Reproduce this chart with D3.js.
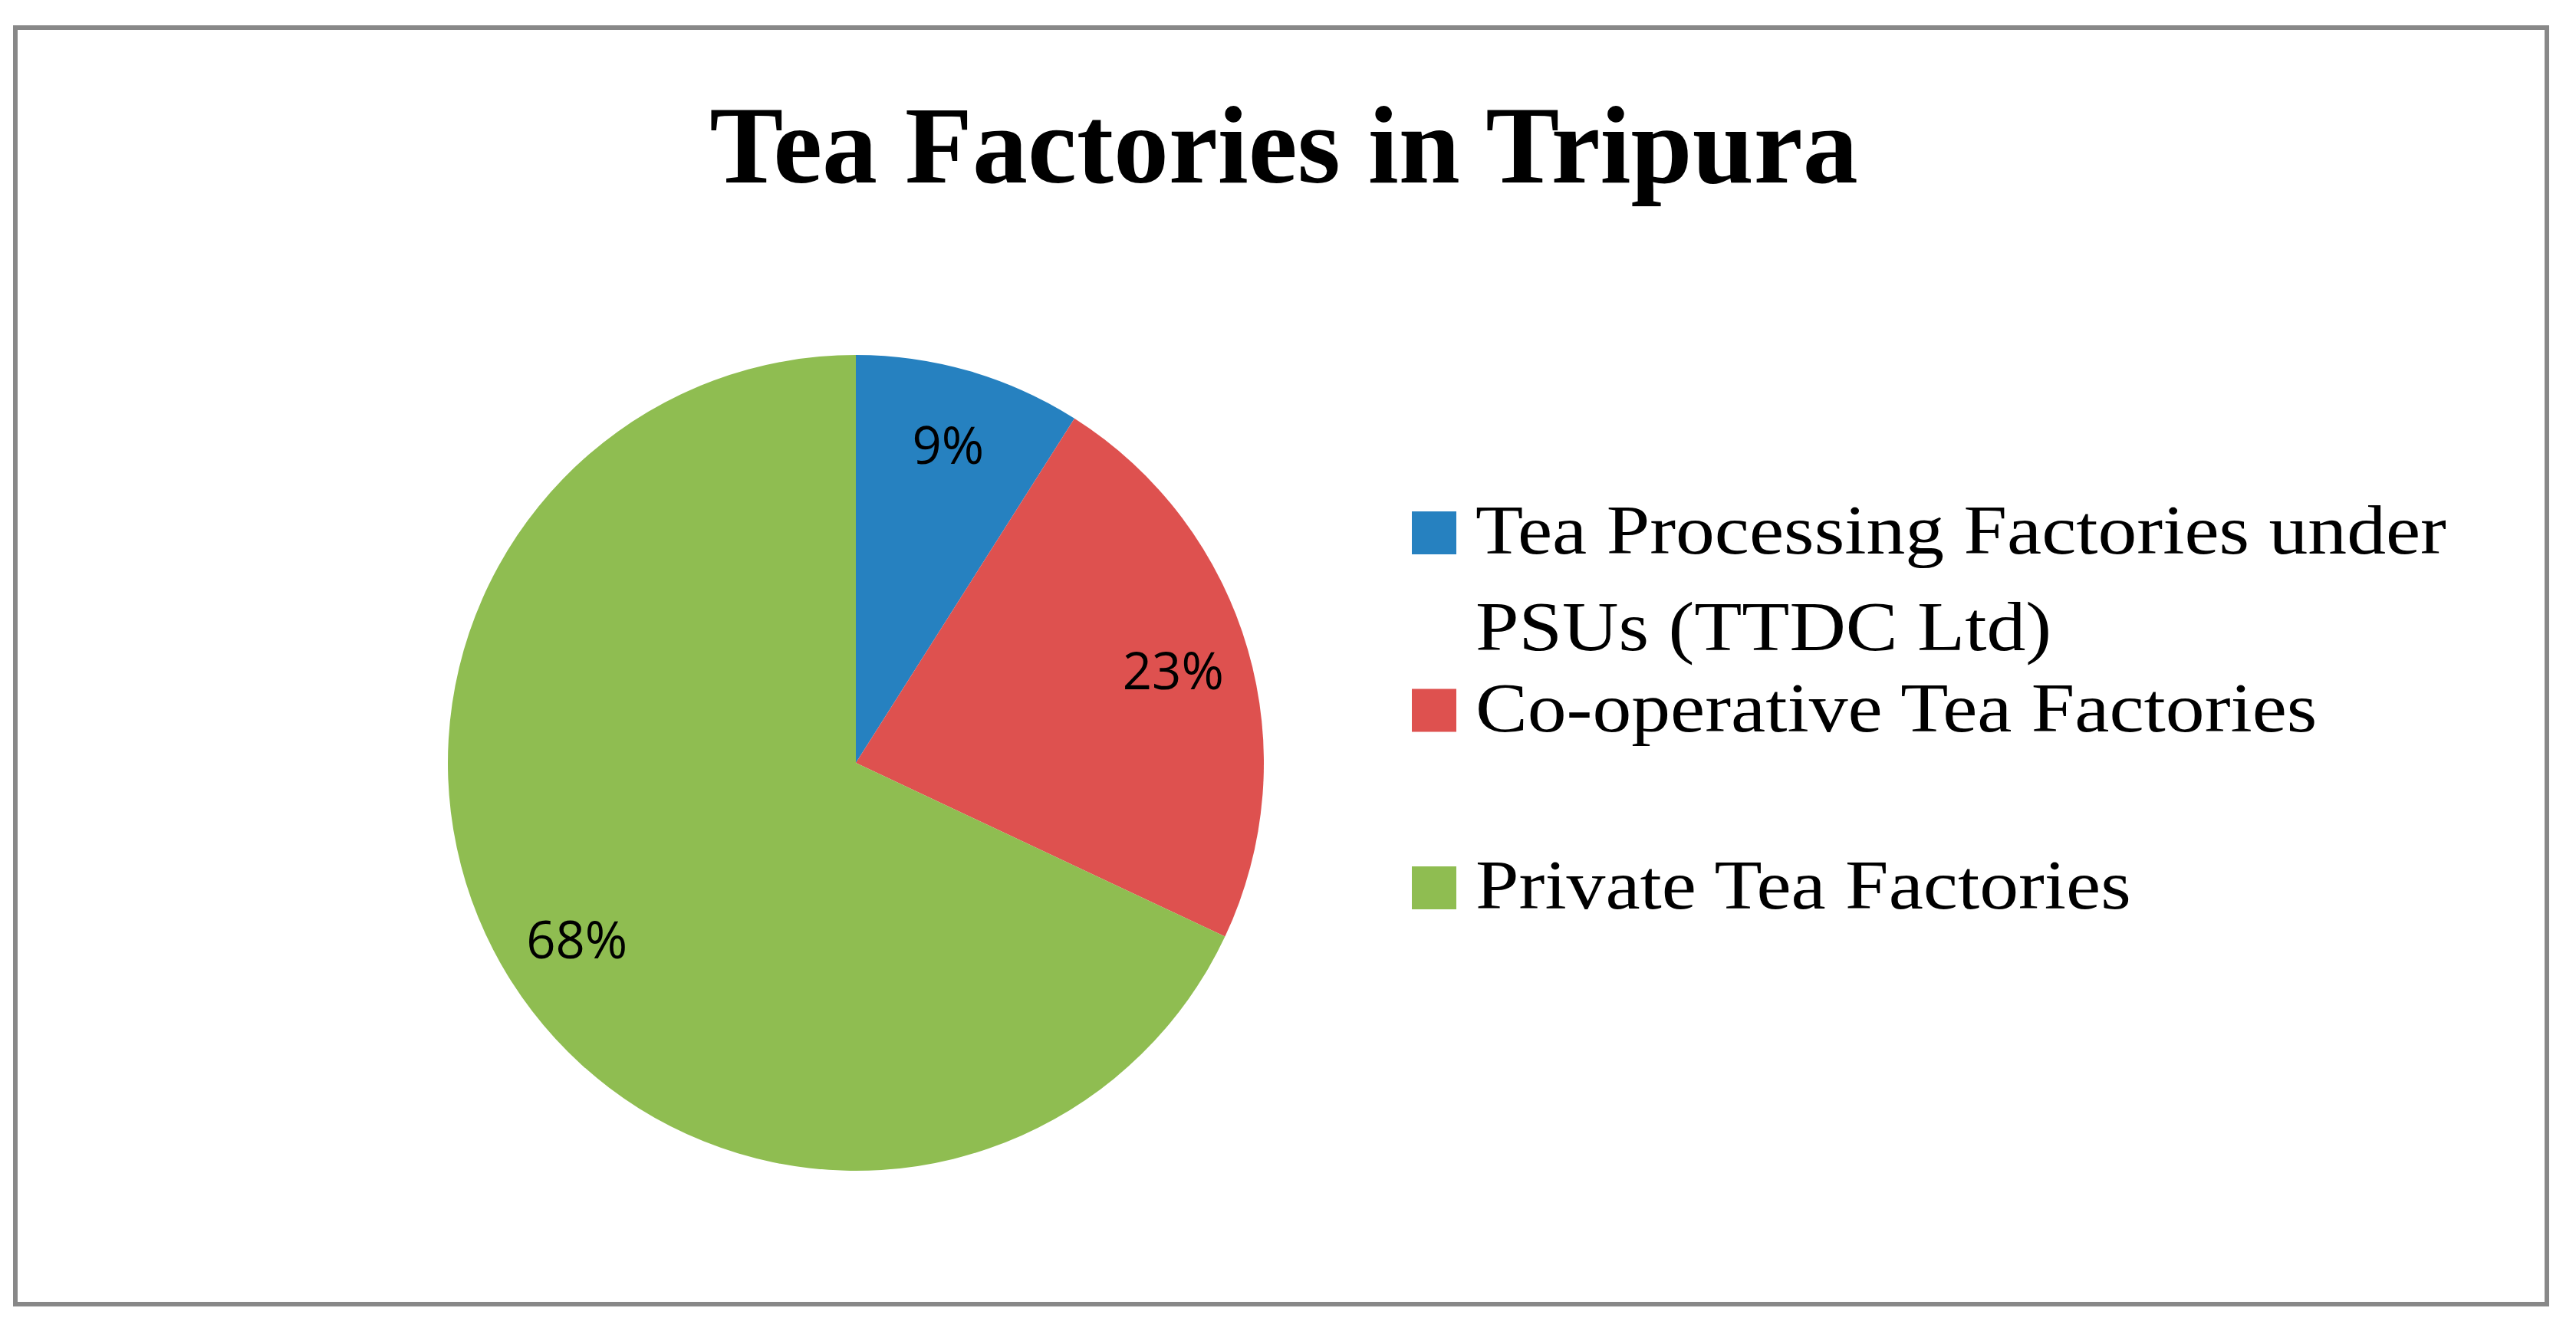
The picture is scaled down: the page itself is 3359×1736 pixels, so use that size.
<!DOCTYPE html>
<html>
<head>
<meta charset="utf-8">
<script src="https://cdn.jsdelivr.net/npm/d3@7"></script>
<style>
  html, body { margin: 0; padding: 0; background: #ffffff; }
  svg { display: block; }
</style>
</head>
<body>
<svg id="chart" width="3359" height="1736"></svg>
<script>
// ---- data ----
const title = "Tea Factories in Tripura";
const categories = [
  "Tea Processing Factories under PSUs (TTDC Ltd)",
  "Co-operative Tea Factories",
  "Private Tea Factories"
];
const legendLines = [
  ["Tea Processing Factories under", "PSUs (TTDC Ltd)"],
  ["Co-operative Tea Factories"],
  ["Private Tea Factories"]
];
const shares = [9, 23, 68];
const colors = ["#2681C0", "#DE514F", "#8FBD51"];

// ---- layout ----
const W = 3359, H = 1736;
const svg = d3.select("#chart");
const serif = "'Liberation Serif', 'DejaVu Serif', serif";

// frame
svg.append("rect")
  .attr("x", 20).attr("y", 36)
  .attr("width", 3301).attr("height", 1665)
  .attr("fill", "#ffffff")
  .attr("stroke", "#888888")
  .attr("stroke-width", 6);

// title
svg.append("text")
  .attr("x", 1674).attr("y", 238)
  .attr("text-anchor", "middle")
  .attr("font-family", serif)
  .attr("font-weight", "bold")
  .attr("font-size", 144)
  .attr("fill", "#000")
  .text(title);

// pie
const cx = 1116, cy = 995, R = 532;
const data = categories.map((c, i) => ({ name: c, value: shares[i], color: colors[i] }));
const pie = d3.pie().value(d => d.value).sort(null);
const arc = d3.arc().innerRadius(0).outerRadius(R);
const labelArc = d3.arc().innerRadius(R * 0.81).outerRadius(R * 0.81);
const color = d3.scaleOrdinal().domain(categories).range(colors);

const g = svg.append("g").attr("transform", `translate(${cx},${cy})`);
const arcs = pie(data);
g.selectAll("path.slice").data(arcs).join("path")
  .attr("class", "slice")
  .attr("d", arc)
  .attr("fill", d => color(d.data.name));

g.selectAll("text.lbl").data(arcs).join("text")
  .attr("class", "lbl")
  .attr("transform", d => { const [x, y] = labelArc.centroid(d); return `translate(${x},${y})`; })
  .attr("text-anchor", "middle")
  .attr("dy", "0.36em")
  .attr("font-family", "'Open Sans', 'Noto Sans', sans-serif")
  .attr("font-size", 67)
  .attr("fill", "#000")
  .text(d => d.data.value + "%");

// legend
const legX = 1841, legY0 = 722, legStep = 231.5, lineStep = 126;
const leg = svg.append("g");
const items = leg.selectAll("g.item").data(data).join("g")
  .attr("class", "item")
  .attr("transform", (d, i) => `translate(${legX},${legY0 + i * legStep})`);
items.append("rect")
  .attr("x", 0).attr("y", -55)
  .attr("width", 58).attr("height", 56)
  .attr("fill", d => color(d.name));
items.each(function(d, i) {
  const t = d3.select(this).append("text")
    .attr("transform", "translate(83,0) scale(1.105,1)")
    .attr("font-family", serif)
    .attr("font-size", 92)
    .attr("fill", "#000");
  legendLines[i].forEach((ln, j) => {
    t.append("tspan").attr("x", 0).attr("y", j * lineStep).text(ln);
  });
});
</script>
</body>
</html>
